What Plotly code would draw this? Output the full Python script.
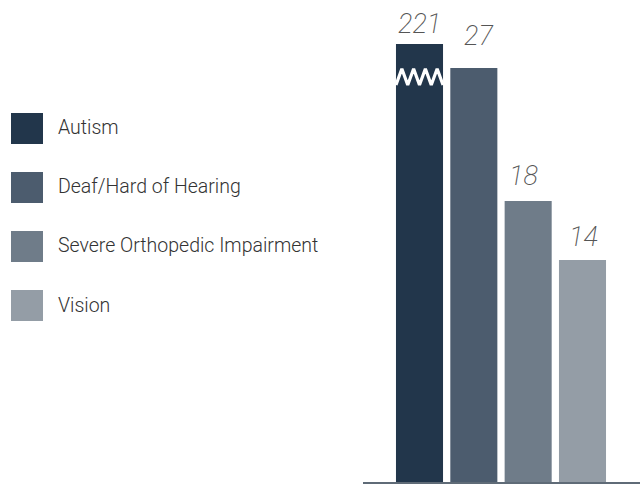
import plotly.graph_objects as go

# ---- data ----
categories = ["Autism", "Deaf/Hard of Hearing", "Severe Orthopedic Impairment", "Vision"]
values = [221, 27, 18, 14]
# Autism bar is drawn broken (axis break) at this displayed height
autism_break_display = 28.62
colors = ["#22364b", "#4c5c6e", "#6f7c89", "#949da6"]

# ---- layout / style constants ----
W, H = 640, 484
ML, MR, MT, MB = 363, 0, 0, 2
PX_PER_UNIT = 14.77
Y_MIN = -1.03
Y_MAX = Y_MIN + (H - MT - MB) / PX_PER_UNIT
X_MIN = -1.04
X_MAX = X_MIN + (W - ML - MR) / 54.33
BAR_W = 0.866
LABEL_YSHIFT = [2, 14, 7, 5]   # pixel gap of each value label above its bar
LABEL_XSHIFT = [0, 5, -5, 1]

display_vals = [min(v, autism_break_display) for v in values]

fig = go.Figure()
for i, (cat, v, dv, c) in enumerate(zip(categories, values, display_vals, colors)):
    fig.add_trace(go.Bar(
        x=[i], y=[dv - Y_MIN], base=Y_MIN, width=BAR_W,
        marker=dict(color=c, line=dict(width=0)),
        name=cat, showlegend=False, hoverinfo="skip",
    ))
    fig.add_annotation(
        x=i, y=dv, xref="x", yref="y", text=str(v), showarrow=False,
        yanchor="bottom", yshift=LABEL_YSHIFT[i], xshift=LABEL_XSHIFT[i],
        font=dict(family="Roboto", size=27, color="#555555", style="italic", weight=200),
    )

# zigzag break marker on the broken bar
brk_i = [k for k, v in enumerate(values) if v > autism_break_display][0]
n_seg = 8
zx, zy = [], []
top_y, bot_y = 26.95, 25.85
for k in range(n_seg + 1):
    zx.append(brk_i - BAR_W / 2 + BAR_W * k / n_seg)
    zy.append(bot_y if k % 2 == 0 else top_y)
fig.add_trace(go.Scatter(x=zx, y=zy, mode="lines", line=dict(color="white", width=3.2),
                         showlegend=False, hoverinfo="skip"))

# custom legend (large swatches) on the left; pixel positions in window coordinates
plot_w = W - ML - MR
plot_h = H - MT - MB
def px2x(px):
    return (px - ML) / plot_w
def py2y(py):
    return (H - MB - py) / plot_h

legend_top = [113, 172, 231, 290]
for cat, c, ty in zip(categories, colors, legend_top):
    fig.add_shape(type="rect", xref="paper", yref="paper",
                  x0=px2x(11), x1=px2x(43), y0=py2y(ty + 31), y1=py2y(ty),
                  fillcolor=c, line=dict(width=0))
    fig.add_annotation(xref="paper", yref="paper", x=px2x(56), y=py2y(ty + 15),
                       text=cat, showarrow=False, xanchor="left", yanchor="middle",
                       font=dict(family="Roboto", size=19.5, color="#333333", weight=300))

fig.update_layout(
    width=W, height=H,
    margin=dict(l=ML, r=MR, t=MT, b=MB),
    paper_bgcolor="white", plot_bgcolor="white",
    barmode="overlay",
    xaxis=dict(range=[X_MIN, X_MAX], showgrid=False, zeroline=False, showticklabels=False,
               showline=True, linecolor="#5f6b77", linewidth=1.5, ticks=""),
    yaxis=dict(range=[Y_MIN, Y_MAX], showgrid=False, zeroline=False, showticklabels=False,
               showline=False, ticks=""),
    showlegend=False,
)

# remove the default 8px page margin so the figure sits at the window's top-left corner
fig.write_html("out.html", config={"displayModeBar": False},
               post_script="document.body.style.margin='0';")
